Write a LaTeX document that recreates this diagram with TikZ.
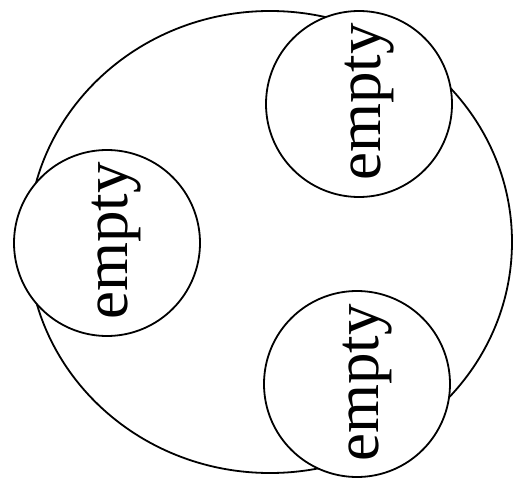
\documentclass[tikz,border=0pt]{standalone}
\usepackage{fontspec}
\setmainfont{Liberation Serif}
\usepackage{tikz}
\tikzset{
  holecircle/.style={circle, draw, fill=white, line width=1.8pt,
    minimum size=186pt, inner sep=0pt},
  holelabel/.style={rotate=90, anchor=base, inner sep=0pt,
    font=\fontsize{63}{63}\selectfont}
}

\begin{document}
\begin{tikzpicture}[x=1pt, y=-1pt, line cap=round, line join=round]
  \useasboundingbox (0,0) rectangle (515,487);

  % Outer region, slightly wider than tall.
  \draw[line width=1.8pt] (270,242) ellipse[x radius=242, y radius=231];

  % The three holes sit on top of the outer rim.
  \node[holecircle] (holetop) at (359,104) {};
  \node[holecircle] (holeleft) at (107,243) {};
  \node[holecircle] (holebottom) at (357,384) {};

  \node[holelabel] (labeltop) at ([xshift=21pt,yshift=2pt]holetop.center) {empty};
  \node[holelabel] (labelleft) at ([xshift=20pt,yshift=2pt]holeleft.center) {empty};
  \node[holelabel] (labelbottom) at ([xshift=21pt,yshift=1pt]holebottom.center) {empty};
\end{tikzpicture}
\end{document}
